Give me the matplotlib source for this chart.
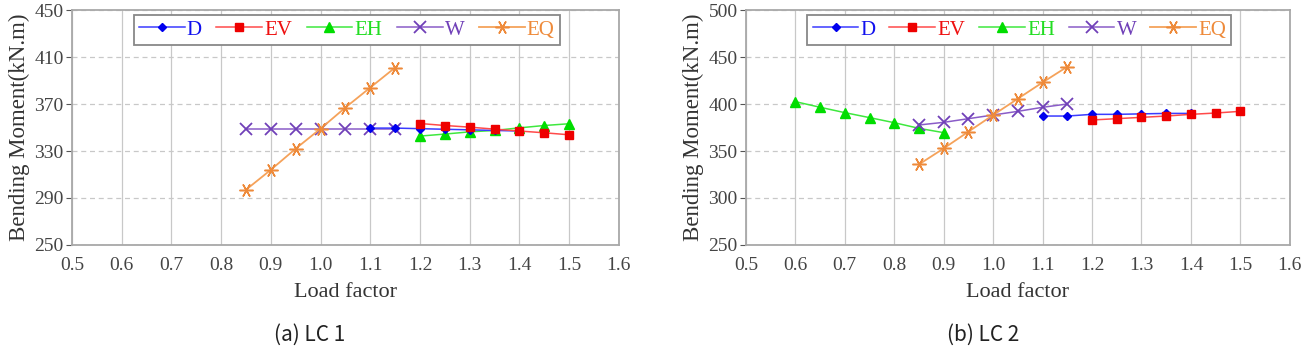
import matplotlib
matplotlib.use("Agg")
import matplotlib.pyplot as plt

# load factors
x_low = [0.6, 0.65, 0.7, 0.75, 0.8, 0.85, 0.9]
x_mid = [0.85, 0.9, 0.95, 1.0, 1.05, 1.1, 1.15]
x_d = [1.1, 1.15, 1.2, 1.25, 1.3, 1.35, 1.4]
x_high = [1.2, 1.25, 1.3, 1.35, 1.4, 1.45, 1.5]

# LC 1 bending moments (kN.m)
lc1_d = [349.5, 349.5, 349, 348.5, 348, 347.5, 347]
lc1_ev = [353.4, 351.7, 350.3, 348.6, 347, 345.5, 343.8]
lc1_eh = [342.7, 344.4, 346.3, 347.5, 349.7, 351.7, 353.2]
lc1_w = [349, 349, 349, 349, 349, 349, 349]
lc1_eq = [297, 314, 332, 349, 367, 384, 401]

# LC 2 bending moments (kN.m)
lc2_d = [387.2, 387.2, 389, 389, 389.5, 390, 390]
lc2_ev = [383, 384.4, 385.8, 387.2, 389, 390.4, 392.2]
lc2_eh = [402.5, 396.5, 390.8, 385.5, 380.1, 374.1, 369.5]
lc2_w = [377.7, 380.5, 384.4, 388.3, 392.2, 396.5, 400]
lc2_eq = [335.8, 352.8, 370.6, 388.3, 405.7, 423, 439.7]

xticks = [0.5, 0.6, 0.7, 0.8, 0.9, 1.0, 1.1, 1.2, 1.3, 1.4, 1.5, 1.6]
xtick_labels = ["0.5", "0.6", "0.7", "0.8", "0.9", "1.0", "1.1",
                "1.2", "1.3", "1.4", "1.5", "1.6"]

serif = "Liberation Serif"
grid_c = "#c8c8c8"
spine_c = "#a8a8a8"

fig = plt.figure(figsize=(13.01, 3.51), dpi=100)
ax1 = fig.add_axes([0.0553, 0.302, 0.4204, 0.6695])
ax2 = fig.add_axes([0.5734, 0.302, 0.418, 0.6695])


def draw(ax, x_eh, d, ev, eh, w, eq, ylim, yticks):
    ax.plot(x_d, d, color="#3b3bff", lw=1.1, marker="D", ms=4.5,
            mfc="#0000ee", mec="#0000ee", label="D", zorder=4)
    ax.plot(x_high, ev, color="#ff4a4a", lw=1.1, marker="s", ms=6,
            mfc="#ee0000", mec="#ee0000", label="EV", zorder=5)
    ax.plot(x_eh, eh, color="#3ee83e", lw=1.1, marker="^", ms=6.5,
            mfc="#00dd00", mec="#00dd00", label="EH", zorder=3)
    ax.plot(x_mid, w, color="#8a5cc8", lw=1.1, marker="x", ms=8.5, mew=1.3,
            mec="#7040b8", label="W", zorder=3)
    ax.plot(x_mid, eq, color="#f5a25a", lw=1.3, marker=(6, 2, 90), ms=10,
            mew=1.1, mec="#ee8a3a", label="EQ", zorder=3)

    ax.set_xlim(0.5, 1.6)
    ax.set_ylim(*ylim)
    ax.set_xticks(xticks, xtick_labels)
    ax.set_yticks(yticks)
    ax.grid(axis="x", color=grid_c, lw=0.9, ls="-")
    ax.grid(axis="y", color=grid_c, lw=0.9, ls=(0, (4, 3)))
    ax.set_axisbelow(True)
    for s in ax.spines.values():
        s.set_color(spine_c)
        s.set_linewidth(1.3)
    ax.tick_params(labelfontfamily=serif, labelsize=14, labelcolor="#444444")
    ax.tick_params(axis="y", length=4, color="#555555", pad=2)
    ax.tick_params(axis="x", length=0, pad=9)
    ax.set_xlabel("Load factor", family=serif, fontsize=16,
                  color="#333333", labelpad=6)
    ax.set_ylabel("Bending Moment(kN.m)", family=serif, fontsize=16.5,
                  color="#333333", labelpad=3)

    leg = ax.legend(loc="upper left", bbox_to_anchor=(0.113, 0.851, 0.779, 0.128),
                    mode="expand", ncol=5, frameon=True, fancybox=False,
                    prop={"family": serif, "size": 15}, handlelength=2.2,
                    handletextpad=0.1, columnspacing=0.8, borderpad=0.25,
                    borderaxespad=0)
    leg.get_frame().set_edgecolor("#888888")
    leg.get_frame().set_linewidth(1.3)
    leg.get_frame().set_alpha(1)
    for txt, c in zip(leg.get_texts(),
                      ["#1010ee", "#ee1010", "#22dd22", "#7040b8", "#ee8a3a"]):
        txt.set_color(c)


draw(ax1, x_high, lc1_d, lc1_ev, lc1_eh, lc1_w, lc1_eq,
     (250, 450), [250, 290, 330, 370, 410, 450])
draw(ax2, x_low, lc2_d, lc2_ev, lc2_eh, lc2_w, lc2_eq,
     (250, 500), [250, 300, 350, 400, 450, 500])

fig.text(310 / 1301, 1 - 335 / 351, "(a) LC 1", ha="center", va="center",
         family="Noto Sans CJK KR", fontsize=15, color="#222222")
fig.text(983 / 1301, 1 - 335 / 351, "(b) LC 2", ha="center", va="center",
         family="Noto Sans CJK KR", fontsize=15, color="#222222")

fig.savefig("out.png", dpi=100)
